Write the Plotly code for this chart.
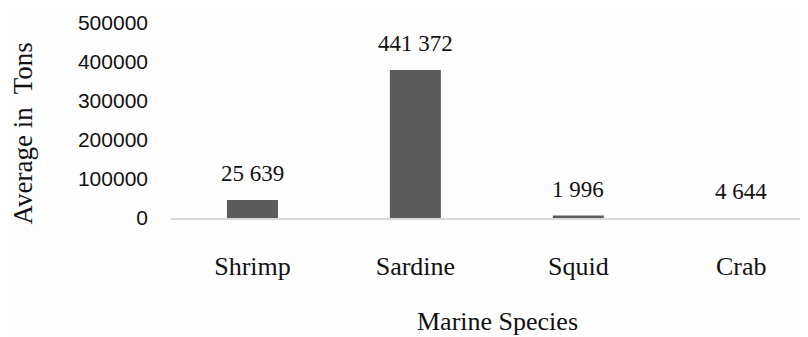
import plotly.graph_objects as go

categories = ["Shrimp", "Sardine", "Squid", "Crab"]
bar_values = [46000, 379500, 6400, 0]
value_labels = ["25 639", "441 372", "1 996", "4 644"]
y_ticks = [0, 100000, 200000, 300000, 400000, 500000]
y_tick_labels = ["0", "100000", "200000", "300000", "400000", "500000"]

serif = "Liberation Serif, Times New Roman, serif"
sans = "Liberation Sans, Arial, sans-serif"

fig = go.Figure()
fig.add_trace(go.Bar(
    x=categories, y=bar_values, width=0.313,
    marker=dict(color="#5b5b5b", line=dict(width=0)),
    hoverinfo="skip", showlegend=False,
))

for c, v, t in zip(categories, bar_values, value_labels):
    fig.add_annotation(x=c, y=v, text=t, showarrow=False, yanchor="bottom",
                       yshift=12, font=dict(family=serif, size=23, color="#111111"))

fig.add_annotation(xref="paper", yref="paper", x=0.512, y=-0.533, text="Marine Species",
                   showarrow=False, xanchor="center", yanchor="middle",
                   font=dict(family=serif, size=26, color="#111111"))
fig.add_annotation(xref="paper", yref="paper", x=-0.233, y=0.431, text="Average in  Tons",
                   showarrow=False, textangle=-90, xanchor="center", yanchor="middle",
                   font=dict(family=serif, size=27, color="#111111"))

fig.update_layout(
    width=800, height=329,
    margin=dict(l=163, r=0, t=15, b=119),
    paper_bgcolor="#fdfdfd", plot_bgcolor="#fdfdfd",
)
fig.update_xaxes(
    range=[-0.5, 3.41], showgrid=False, zeroline=False,
    showline=True, linecolor="#d9d9d9", linewidth=2,
    ticks="", ticklabelstandoff=24,
    tickfont=dict(family=serif, size=26, color="#111111"),
)
fig.update_yaxes(
    range=[0, 500000], tickvals=y_ticks, ticktext=y_tick_labels,
    showgrid=False, zeroline=False, showline=False, ticks="",
    ticklabelstandoff=22,
    tickfont=dict(family=sans, size=21, color="#111111"),
)
fig.write_html("out.html")
